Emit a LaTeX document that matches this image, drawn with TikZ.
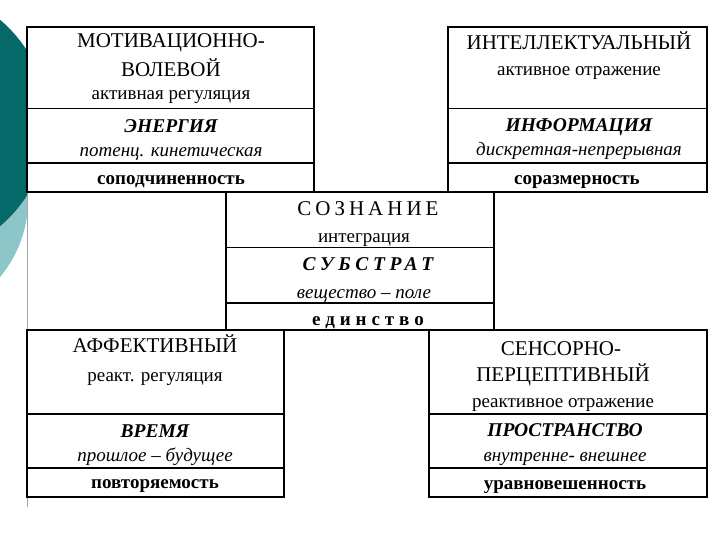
\documentclass[tikz,border=0pt]{standalone}
\usepackage{fontspec}
\setmainfont{Liberation Serif}
\definecolor{darkteal}{HTML}{05696A}
\definecolor{lightteal}{HTML}{8CC6C8}
\begin{document}
\begin{tikzpicture}[x=1pt,y=-1pt,
  thickline/.style={line width=1.8pt},
  thinline/.style={line width=0.9pt},
  hd/.style={anchor=base, inner sep=0pt, font=\fontsize{21}{24}\selectfont},
  sub/.style={anchor=base, inner sep=0pt, font=\fontsize{19}{22}\selectfont},
  bi/.style={anchor=base, inner sep=0pt, font=\fontsize{19.5}{24}\selectfont\bfseries\itshape},
  it/.style={anchor=base, inner sep=0pt, font=\fontsize{19}{22}\selectfont\itshape},
  bd/.style={anchor=base, inner sep=0pt, font=\fontsize{19}{22}\selectfont\bfseries},
]
\useasboundingbox (0,0) rectangle (720,540);
\fill[white] (0,0) rectangle (720,540);
% decorative circles at the left edge
\begin{scope}
  \clip (0,0) rectangle (27,540);
  \fill[lightteal] (-92,200) circle (120);
  \fill[darkteal] (-87,123) circle (135);
\end{scope}
\draw[black!35, line width=0.8pt] (27,190) -- (27,507);

% top-left box
\draw[thickline] (27,27) rectangle (314,192);
\draw[thinline] (27,108) -- (314,108);
\draw[thickline] (27,163) -- (314,163);
\node[hd] (tl1) at (171,48) {МОТИВАЦИОННО-};
\node[hd] (tl2) at (171,77) {ВОЛЕВОЙ};
\node[sub] (tl3) at (171,100) {активная регуляция};
\node[bi] (tl4) at (171,133) {ЭНЕРГИЯ};
\node[it] (tl5) at (171,157) {потенц. кинетическая};
\node[bd] (tl6) at (171,185) {соподчиненность};

% top-right box
\draw[thickline] (448,27) rectangle (707,192);
\draw[thinline] (448,108) -- (707,108);
\draw[thickline] (448,163) -- (707,163);
\node[hd] (tr1) at (579,50) {ИНТЕЛЛЕКТУАЛЬНЫЙ};
\node[sub] (tr2) at (579,76) {активное отражение};
\node[bi] (tr3) at (579,132) {ИНФОРМАЦИЯ};
\node[it] (tr4) at (579,156) {дискретная-непрерывная};
\node[bd] (tr5) at (577,185) {соразмерность};

% centre box
\draw[thickline] (226,192) rectangle (494,330);
\draw[thinline] (226,247) -- (494,247);
\draw[thickline] (226,303) -- (494,303);
\node[hd, font=\fontsize{21}{24}\selectfont\addfontfeature{LetterSpace=19}] (c1) at (368,215) {СОЗНАНИЕ};
\node[sub] (c2) at (364,242) {интеграция};
\node[bi, font=\fontsize{19.5}{24}\selectfont\bfseries\itshape\addfontfeature{LetterSpace=24}] (c3) at (368,270) {СУБСТРАТ};
\node[it] (c4) at (364,298) {вещество – поле};
\node[bd, font=\fontsize{19}{22}\selectfont\bfseries\addfontfeature{LetterSpace=26}] (c5) at (368,325) {единство};

% bottom-left box
\draw[thickline] (27,330) rectangle (284,497);
\draw[thickline] (27,414) -- (284,414);
\draw[thickline] (27,468) -- (284,468);
\node[hd] (bl1) at (155,352) {АФФЕКТИВНЫЙ};
\node[sub] (bl2) at (155,381) {реакт. регуляция};
\node[bi] (bl3) at (155,437) {ВРЕМЯ};
\node[it] (bl4) at (155,461) {прошлое – будущее};
\node[bd] (bl5) at (155,488) {повторяемость};

% bottom-right box
\draw[thickline] (429,330) rectangle (707,497);
\draw[thickline] (429,414) -- (707,414);
\draw[thickline] (429,468) -- (707,468);
\node[hd] (br1) at (561,355) {СЕНСОРНО-};
\node[hd] (br2) at (563,381) {ПЕРЦЕПТИВНЫЙ};
\node[sub] (br3) at (563,407) {реактивное отражение};
\node[bi] (br4) at (565,436) {ПРОСТРАНСТВО};
\node[it] (br5) at (565,461) {внутренне- внешнее};
\node[bd] (br6) at (565,489) {уравновешенность};
\end{tikzpicture}
\end{document}
